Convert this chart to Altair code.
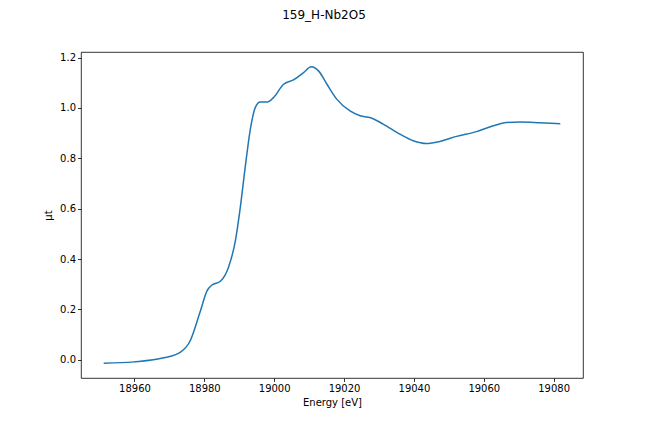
import altair as alt
import pandas as pd

energy = [18951.2, 18959.8, 18968.4, 18973.1, 18976.0, 18978.9, 18980.8, 18982.2,
          18984.6, 18986.9, 18988.9, 18990.3, 18991.7, 18993.1, 18994.6, 18996.0,
          18998.2, 18999.8, 19002.7, 19005.5, 19008.4, 19010.6, 19012.7, 19015.1,
          19017.9, 19021.7, 19024.6, 19027.4, 19031.2, 19036.0, 19039.8, 19043.6,
          19047.4, 19052.2, 19057.9, 19062.7, 19066.5, 19070.3, 19076.0, 19081.9]
mu = [-0.0135, -0.008, 0.008, 0.030, 0.077, 0.195, 0.275, 0.297,
      0.312, 0.367, 0.473, 0.605, 0.764, 0.909, 1.002, 1.024,
      1.024, 1.041, 1.094, 1.111, 1.140, 1.163, 1.147, 1.094,
      1.035, 0.988, 0.969, 0.962, 0.936, 0.896, 0.870, 0.859,
      0.867, 0.887, 0.906, 0.929, 0.942, 0.944, 0.941, 0.937]

x_ticks = [18960, 18980, 19000, 19020, 19040, 19060, 19080]
y_ticks = [0.0, 0.2, 0.4, 0.6, 0.8, 1.0, 1.2]

df = pd.DataFrame({"energy": energy, "mu": mu})

FONT = "DejaVu Sans"

chart = alt.Chart(df).mark_line(
    color="#1f77b4", strokeWidth=1.5, interpolate="monotone"
).encode(
    x=alt.X("energy:Q",
            scale=alt.Scale(domain=[18944.7, 19088.4], nice=False, zero=False),
            axis=alt.Axis(title="Energy [eV]", values=x_ticks, format="d",
                          grid=False, domain=False, tickColor="black",
                          tickSize=3.5, tickWidth=0.8, labelPadding=2,
                          labelFontSize=10, labelColor="black", labelFont=FONT,
                          titleFont=FONT, titleFontSize=10, titleFontWeight="normal",
                          titleColor="black", titlePadding=4)),
    y=alt.Y("mu:Q",
            scale=alt.Scale(domain=[-0.072, 1.222], nice=False, zero=False),
            axis=alt.Axis(title="μt", values=y_ticks, format=".1f",
                          grid=False, domain=False, tickColor="black",
                          tickSize=3.5, tickWidth=0.8, labelPadding=2,
                          labelFontSize=10, labelColor="black", labelFont=FONT,
                          titleFont=FONT, titleFontSize=10, titleFontWeight="normal",
                          titleColor="black", titlePadding=6)),
).properties(
    width=502, height=326,
    title=alt.TitleParams("159_H-Nb2O5", font=FONT, fontSize=12,
                          fontWeight="normal", color="black",
                          anchor="middle", offset=30, dx=-8),
    autosize=alt.AutoSizeParams(type="none"),
    padding={"left": 73, "top": 44, "right": 57, "bottom": 46},
).configure_view(
    stroke="black", strokeWidth=0.8
)

chart.save("out.html", embed_options={"renderer": "svg", "actions": False})
